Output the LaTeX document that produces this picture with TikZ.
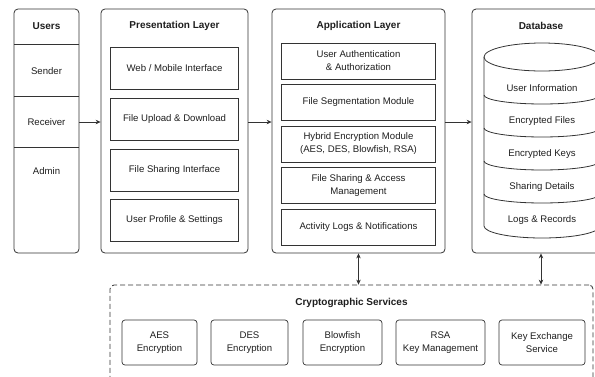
\documentclass[tikz,border=0pt]{standalone}
\usepackage{fontspec}
\setmainfont{Liberation Sans}
\usetikzlibrary{arrows.meta}
\definecolor{linegray}{HTML}{333333}
\definecolor{textgray}{HTML}{1E1E1E}

\begin{document}
\begin{tikzpicture}[x=1pt,y=-1pt,
  panel/.style={draw=linegray,line width=0.8pt,rounded corners=4pt,inner sep=0pt},
  box/.style={draw=linegray,line width=0.7pt,align=center,inner sep=0pt,text=textgray,font=\fontsize{9.6}{13}\selectfont},
  cbox/.style={box,rounded corners=3pt,minimum height=45pt},
  title/.style={font=\fontsize{10}{12}\selectfont\bfseries,text=textgray},
  lbl/.style={font=\fontsize{9.6}{13}\selectfont,text=textgray,align=center},
  arr/.style={-{Stealth[length=5pt,width=4.5pt]},line width=0.7pt,draw=linegray},
  darr/.style={{Stealth[length=5pt,width=4.5pt]}-{Stealth[length=5pt,width=4.5pt]},line width=0.7pt,draw=linegray}]
\clip (0,0) rectangle (595,376);

% panels
\node[panel,minimum width=65pt,minimum height=244pt] (users) at (46.5,131) {};
\node[panel,minimum width=147pt,minimum height=244pt] (pres) at (174.5,131) {};
\node[panel,minimum width=173pt,minimum height=244pt] (app) at (358.5,131) {};
\node[panel,minimum width=138pt,minimum height=244pt] (db) at (541,131) {};
\node[panel,dash pattern=on 5pt off 3pt,minimum width=483pt,minimum height=120pt] (crypto) at (351.5,345) {};

\node[title] (usersT) at (46.5,26) {Users};
\node[title] (presT) at (174.5,26) {Presentation Layer};
\node[title] (appT) at (358.5,26) {Application Layer};
\node[title] (dbT) at (541,26) {Database};
\node[title] (cryptoT) at (351.5,303) {Cryptographic Services};

% users
\draw[line width=0.8pt,linegray] (14,44) -- (79,44);
\draw[line width=0.8pt,linegray] (14,96) -- (79,96);
\draw[line width=0.8pt,linegray] (14,147) -- (79,147);
\node[lbl] (sender) at (46.5,71) {Sender};
\node[lbl] (receiver) at (46.5,122) {Receiver};
\node[lbl] (admin) at (46.5,171) {Admin};

% presentation layer
\node[box,minimum width=128pt,minimum height=42pt] (web) at (174.5,68) {Web / Mobile Interface};
\node[box,minimum width=128pt,minimum height=42pt] (upload) at (174.5,119.5) {File Upload \& Download};
\node[box,minimum width=128pt,minimum height=42pt] (share) at (174.5,170.5) {File Sharing Interface};
\node[box,minimum width=128pt,minimum height=42pt] (profile) at (174.5,220.5) {User Profile \& Settings};

% application layer
\node[box,minimum width=154pt,minimum height=36pt] (auth) at (358.5,61) {User Authentication\\\& Authorization};
\node[box,minimum width=154pt,minimum height=36pt] (segm) at (358.5,102.5) {File Segmentation Module};
\node[box,minimum width=154pt,minimum height=36pt] (hybrid) at (358.5,144) {Hybrid Encryption Module\\(AES, DES, Blowfish, RSA)};
\node[box,minimum width=154pt,minimum height=36pt] (access) at (358.5,185.5) {File Sharing \& Access\\Management};
\node[box,minimum width=154pt,minimum height=36pt] (logs) at (358.5,227) {Activity Logs \& Notifications};

% database cylinder
\draw[line width=0.8pt,linegray] (484,57) -- (484,226) arc[start angle=180,end angle=0,x radius=58,y radius=12] -- (600,57);
\draw[line width=0.8pt,linegray] (542,57) ellipse[x radius=58,y radius=14];
\foreach \y in {95,128,161,194}
  \draw[line width=0.8pt,linegray] (484,\y) arc[start angle=180,end angle=0,x radius=58,y radius=9];
\node[lbl] (dbUser) at (542,88) {User Information};
\node[lbl] (dbFiles) at (542,121) {Encrypted Files};
\node[lbl] (dbKeys) at (542,154) {Encrypted Keys};
\node[lbl] (dbShare) at (542,187) {Sharing Details};
\node[lbl] (dbLogs) at (542,220) {Logs \& Records};

% cryptographic services
\node[cbox,minimum width=75pt] (aes) at (159.5,342.5) {AES\\Encryption};
\node[cbox,minimum width=77pt] (des) at (249.5,342.5) {DES\\Encryption};
\node[cbox,minimum width=79pt] (blowfish) at (342.5,342.5) {Blowfish\\Encryption};
\node[cbox,minimum width=89pt] (rsa) at (440.5,342.5) {RSA\\Key Management};
\node[cbox,minimum width=86pt] (keyex) at (542,342.5) {Key Exchange\\Service};

% connectors
\draw[arr] (users.east |- receiver) -- (pres.west |- receiver);
\draw[arr] (pres.east |- receiver) -- (app.west |- receiver);
\draw[arr] (app.east |- receiver) -- (db.west |- receiver);
\draw[darr] (app.south) -- (app.south |- crypto.north);
\draw[darr] (db.south) -- (db.south |- crypto.north);
\end{tikzpicture}
\end{document}
